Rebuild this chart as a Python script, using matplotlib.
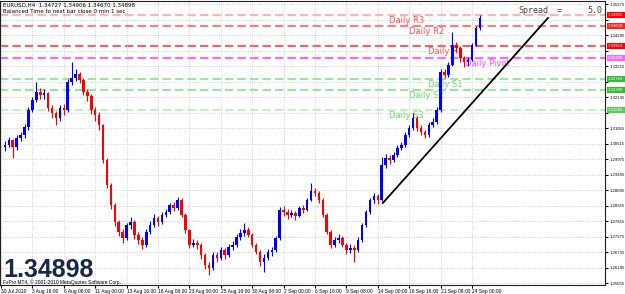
import numpy as np
import matplotlib.pyplot as plt

# EURUSD candles (each candle = two H4 bars), prices
open0 = 1.3040
closes = [1.3046, 1.3064, 1.3039, 1.3071, 1.3081, 1.3109, 1.3168, 1.3203, 1.3231, 1.3221,
          1.3228, 1.3175, 1.3158, 1.3141, 1.3175, 1.3168, 1.3266, 1.3280, 1.3294, 1.3273,
          1.3231, 1.3217, 1.3168, 1.3151, 1.3116, 1.2994, 1.2907, 1.2837, 1.2778, 1.2743,
          1.2722, 1.2768, 1.2778, 1.2733, 1.2715, 1.2698, 1.2743, 1.2768, 1.2792, 1.2778,
          1.2803, 1.2813, 1.2837, 1.2827, 1.2855, 1.2803, 1.2750, 1.2698, 1.2705, 1.2698,
          1.2663, 1.2628, 1.2618, 1.2663, 1.2653, 1.2681, 1.2663, 1.2691, 1.2698, 1.2726,
          1.2740, 1.2750, 1.2733, 1.2698, 1.2674, 1.2639, 1.2653, 1.2674, 1.2681, 1.2722,
          1.2820, 1.2813, 1.2803, 1.2809, 1.2799, 1.2827, 1.2820, 1.2855, 1.2886, 1.2879,
          1.2855, 1.2803, 1.2743, 1.2698, 1.2715, 1.2722, 1.2698, 1.2681, 1.2688, 1.2681,
          1.2715, 1.2768, 1.2813, 1.2855, 1.2869, 1.2855, 1.2977, 1.3001, 1.2994, 1.3012,
          1.3036, 1.3046, 1.3081, 1.3106, 1.3141, 1.3106, 1.3092, 1.3081, 1.3116, 1.3127,
          1.3168, 1.3301, 1.3290, 1.3325, 1.3395, 1.3384, 1.3350, 1.3336, 1.3343, 1.3395,
          1.3454, 1.3490]
highs = [1.3060, 1.3075, 1.3068, 1.3080, 1.3092, 1.3118, 1.3178, 1.3215, 1.3267, 1.3245,
         1.3240, 1.3232, 1.3185, 1.3165, 1.3185, 1.3190, 1.3275, 1.3335, 1.3310, 1.3300,
         1.3280, 1.3240, 1.3225, 1.3180, 1.3160, 1.3120, 1.3000, 1.2915, 1.2845, 1.2785,
         1.2752, 1.2775, 1.2795, 1.2785, 1.2745, 1.2725, 1.2752, 1.2780, 1.2805, 1.2800,
         1.2812, 1.2825, 1.2845, 1.2848, 1.2865, 1.2860, 1.2810, 1.2755, 1.2720, 1.2715,
         1.2705, 1.2670, 1.2640, 1.2672, 1.2675, 1.2690, 1.2688, 1.2700, 1.2712, 1.2735,
         1.2752, 1.2775, 1.2760, 1.2740, 1.2705, 1.2680, 1.2665, 1.2685, 1.2692, 1.2730,
         1.2830, 1.2835, 1.2825, 1.2820, 1.2815, 1.2835, 1.2838, 1.2862, 1.2915, 1.2895,
         1.2885, 1.2862, 1.2810, 1.2750, 1.2725, 1.2735, 1.2728, 1.2705, 1.2700, 1.2697,
         1.2725, 1.2775, 1.2820, 1.2862, 1.2880, 1.2875, 1.3005, 1.3015, 1.3010, 1.3022,
         1.3045, 1.3058, 1.3090, 1.3115, 1.3158, 1.3148, 1.3115, 1.3100, 1.3125, 1.3140,
         1.3178, 1.3310, 1.3312, 1.3335, 1.3440, 1.3405, 1.3390, 1.3358, 1.3352, 1.3402,
         1.3462, 1.3499]
lows = [1.3025, 1.3038, 1.3001, 1.3030, 1.3060, 1.3072, 1.3100, 1.3160, 1.3195, 1.3205,
        1.3208, 1.3165, 1.3140, 1.3116, 1.3130, 1.3150, 1.3160, 1.3255, 1.3270, 1.3262,
        1.3220, 1.3200, 1.3155, 1.3130, 1.3100, 1.2985, 1.2895, 1.2825, 1.2765, 1.2730,
        1.2705, 1.2715, 1.2755, 1.2720, 1.2700, 1.2685, 1.2690, 1.2735, 1.2760, 1.2765,
        1.2770, 1.2795, 1.2805, 1.2815, 1.2820, 1.2795, 1.2740, 1.2688, 1.2690, 1.2685,
        1.2650, 1.2615, 1.2594, 1.2610, 1.2640, 1.2645, 1.2650, 1.2655, 1.2680, 1.2690,
        1.2715, 1.2730, 1.2725, 1.2690, 1.2665, 1.2625, 1.2604, 1.2645, 1.2660, 1.2675,
        1.2715, 1.2800, 1.2790, 1.2795, 1.2785, 1.2795, 1.2808, 1.2815, 1.2850, 1.2870,
        1.2845, 1.2795, 1.2735, 1.2688, 1.2690, 1.2705, 1.2690, 1.2668, 1.2670, 1.2640,
        1.2675, 1.2710, 1.2760, 1.2805, 1.2845, 1.2840, 1.2850, 1.2965, 1.2980, 1.2988,
        1.3005, 1.3028, 1.3040, 1.3075, 1.3100, 1.3095, 1.3080, 1.3070, 1.3075, 1.3110,
        1.3120, 1.3160, 1.3280, 1.3282, 1.3320, 1.3372, 1.3335, 1.3318, 1.3322, 1.3338,
        1.3390, 1.3447]

# daily pivot levels
level_names = ['Daily R3', 'Daily R2', 'Daily R1', 'Daily Pivot', 'Daily S1', 'Daily S2', 'Daily S3']
level_values = [1.34993, 1.34610, 1.33913, 1.33495, 1.32763, 1.32380, 1.31683]

# trend line (H4 bar index, price)
trend_x = [194.6, 278.7]
trend_y = [1.28443, 1.34889]

date_labels = ['30 Jul 2010', '3 Aug 16:00', '6 Aug 08:00', '11 Aug 00:00', '13 Aug 16:00',
               '18 Aug 08:00', '23 Aug 00:00', '25 Aug 16:00', '30 Aug 08:00', '2 Sep 00:00',
               '6 Sep 16:00', '9 Sep 08:00', '14 Sep 00:00', '16 Sep 16:00', '21 Sep 08:00',
               '24 Sep 00:00']
price_ticks = [1.25655 + 0.0054 * k for k in range(19)]
hidden_ticks = [11, 13, 15, 17]   # covered by the level boxes in the terminal

W, H = 625, 294
fig = plt.figure(figsize=(W / 100, H / 100), dpi=100)
ax = fig.add_axes([0, 9 / H, 605 / W, 284 / H])

def px(xp):
    # pixel column -> H4 bar index
    return (xp - 1) / 1.9625

c = np.array(closes)
o = np.array([open0] + closes[:-1])
hi = np.maximum(np.array(highs), np.maximum(o, c))
lo = np.minimum(np.array(lows), np.minimum(o, c))
x = 2 + 2 * np.arange(len(c))
cols = np.where(c >= o, '#0000ff', '#ff0000')

ax.vlines(x, lo, hi, colors=cols, lw=0.8, zorder=4)
ax.bar(x, c - o, bottom=o, width=1.3, color=cols, zorder=4)

line_cols = ['#ffb4b4', '#ff7c7c', '#ff6060', '#ff66ff', '#9ae69a', '#9ae69a', '#c2f0c2']
text_cols = ['#ff5050', '#ff5050', '#ff5050', '#ff44ff', '#66dd66', '#66dd66', '#66dd66']
box_cols = ['#ff0000', '#ff2020', '#ff0000', '#ff66ff', '#33bb33', '#33bb33', '#55cc55']
text_px = [389, 409, 428, 465, 428, 409, 389]
for name, v, lc, tc, bc, tp in zip(level_names, level_values, line_cols, text_cols, box_cols, text_px):
    ax.axhline(v, color=lc, ls=(0, (4, 2)), lw=1.5, zorder=1)
    ax.text(px(tp), v - 0.0004, name, color=tc, fontsize=6, va='top', ha='left', zorder=2)
    ax.text(1.005, v, '%.5f' % v, transform=ax.get_yaxis_transform(), ha='left', va='center',
            family='Liberation Sans', fontsize=3.1, color='white', zorder=10, clip_on=False,
            bbox=dict(boxstyle='square,pad=0.3', fc=bc, ec='none'))

ax.plot(trend_x, trend_y, color='black', lw=1.3, zorder=5)

ax.set_xlim(px(0), px(605))
ax.set_ylim(1.25586, 1.35481)
ax.yaxis.tick_right()
ax.set_yticks(price_ticks)
ax.set_yticklabels(['' if k in hidden_ticks else '%.5f' % t for k, t in enumerate(price_ticks)],
                   family='Liberation Sans')
ax.set_xticks(16 * np.arange(len(date_labels)))
ax.set_xticklabels(date_labels, ha='left', family='Liberation Sans')
ax.tick_params(axis='y', length=2, pad=1, labelsize=3.1)
ax.tick_params(axis='x', length=2, pad=0.8, labelsize=3.5)
ax.grid(True, ls=':', color='#c4c4c4', lw=0.6, zorder=0)
for s in ax.spines.values():
    s.set_color('#202020')
    s.set_linewidth(0.8)

fig.text(3 / W, 1 - 5 / H, 'EURUSD,H4  1.34727 1.34906 1.34670 1.34898', fontsize=4, va='center')
fig.text(3 / W, 1 - 11.5 / H, 'Balanced Time to next bar close 0 min 1 sec', fontsize=4, va='center')
mono = dict(family='DejaVu Sans Mono', fontsize=6, color='#404040', va='center')
fig.text(518 / W, 1 - 10.5 / H, 'Spread', **mono)
fig.text(557 / W, 1 - 10.5 / H, '=', **mono)
fig.text(587 / W, 1 - 10.5 / H, '5.0', **mono)
fig.text(3 / W, 1 - 277 / H, '1.34898', family='Liberation Sans', fontsize=18, weight='bold',
         color='#1b2845', va='baseline')
fig.text(3 / W, 1 - 284.3 / H, 'FxPro MT4, © 2001-2010 MetaQuotes Software Corp.', fontsize=3.5,
         family='Liberation Sans', va='baseline')

fig.savefig('out.png', dpi=100)
